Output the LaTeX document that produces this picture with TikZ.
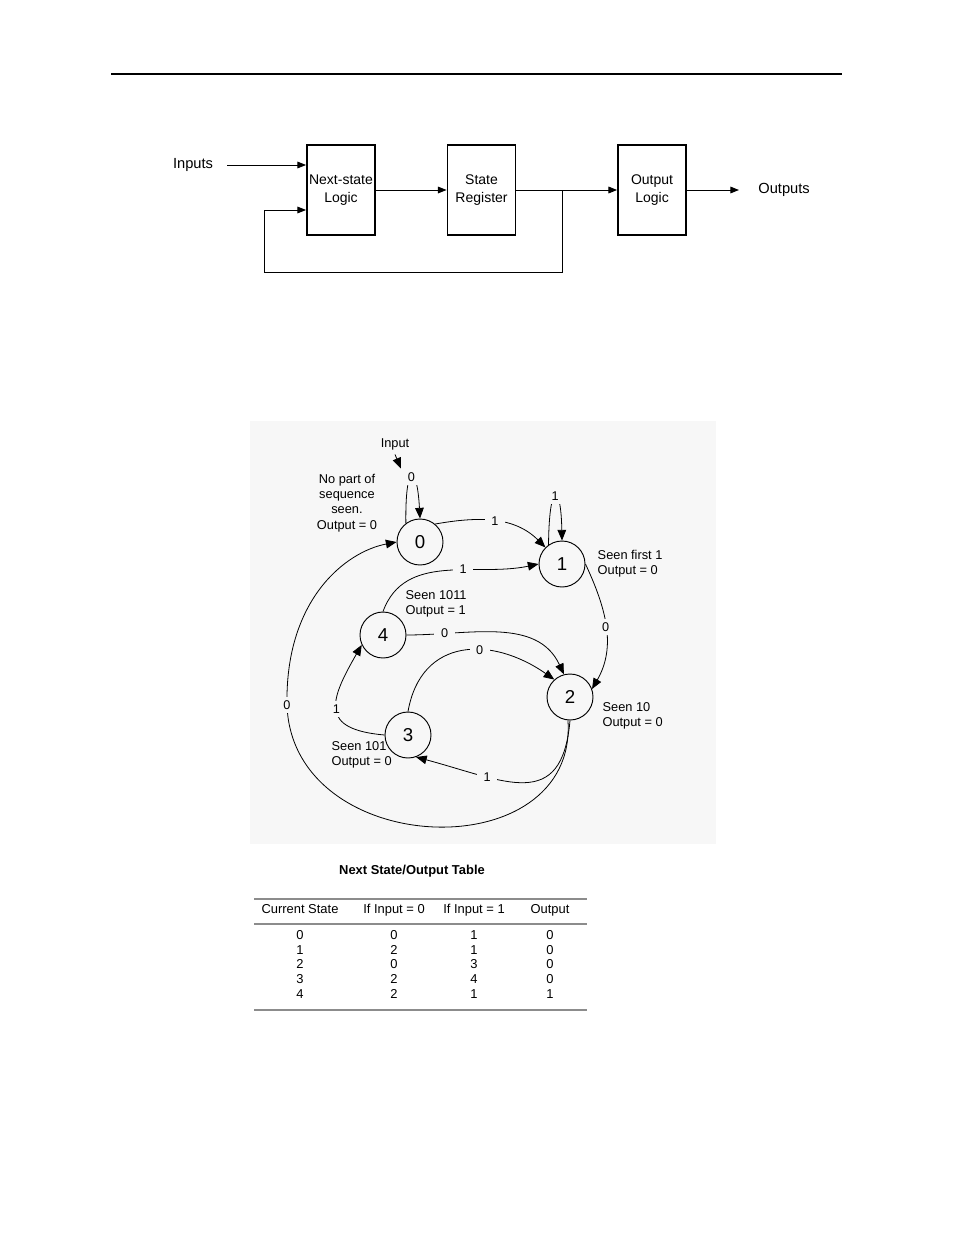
\documentclass[tikz,border=0pt]{standalone}
\usepackage{fontspec}
\setmainfont{Liberation Sans}
\usetikzlibrary{arrows.meta, positioning, calc}
\definecolor{panelgray}{HTML}{F7F7F7}
\definecolor{rulegray}{HTML}{8C8C8C}
\tikzstyle{arrow} = [line width=0.75pt, -{Triangle[length=6.5pt,width=5pt]}]

\begin{document}
\begin{tikzpicture}[
	x=0.75pt, y=0.75pt,
	block/.style={rectangle, draw=black, line width=1.4pt, minimum width=51pt, minimum height=68pt, inner xsep=0.5pt, align=center, font=\fontsize{10.5}{13}\selectfont},
	state/.style={circle, draw=black, line width=0.7pt, minimum size=34.5pt, inner sep=0pt, fill=panelgray, font=\fontsize{14}{16}\selectfont},
	tag/.style={fill=panelgray, inner xsep=5pt, inner ysep=2.5pt, font=\fontsize{9.5}{11}\selectfont},
	note/.style={align=left, inner sep=1pt, font=\fontsize{9.6}{11.5}\selectfont},
	edge/.style={line width=0.6pt, -{Triangle[length=8pt,width=6.5pt]}},
	cell/.style={inner sep=1pt, text height=6.8pt, text depth=2pt, font=\fontsize{9.7}{11}\selectfont}
]
\useasboundingbox (0,0) rectangle (954,-1235);

% Page rule
\draw[line width=0.9pt] (111,-74) -- (842,-74);

% Block diagram
\node[block] (nsl) at (341,-190) {Next-state\\Logic};
\node[block, right=53pt of nsl] (sreg) {State\\Register};
\node[block, right=75.5pt of sreg] (olog) {Output\\Logic};
\node[font=\fontsize{11}{13}\selectfont] (inp) at (193,-165) {Inputs};
\node[font=\fontsize{11}{13}\selectfont] (outp) [right=50pt of olog] {Outputs};
\coordinate (tap) at (562,-190);
\coordinate (fbcorner) at (264,-272);

\draw[arrow, shorten <=7pt] (inp.east) -- (inp.east -| nsl.west);
\draw[arrow] (nsl) -- (sreg);
\draw[arrow] (sreg) -- (olog);
\draw[arrow, shorten >=11pt] (olog) -- (outp);
\draw[arrow] (tap) -- (tap |- fbcorner) -- (fbcorner) |- ([yshift=-15pt]nsl.west);

% State diagram
\fill[panelgray] (250,-421) rectangle (716,-844);

\node[state] (s0) at (420,-542) {0};
\node[state] (s1) at (562,-564) {1};
\node[state] (s4) at (383,-635) {4};
\node[state] (s2) at (570,-697) {2};
\node[state] (s3) at (408,-735) {3};

\node[font=\fontsize{9.6}{11}\selectfont] (inlbl) at (395,-444) {Input};
\node[note, align=center] (n0) at (347,-503) {No part of\\sequence\\seen.\\Output = 0};
\node[note, right=8pt of s1] (n1) {Seen first 1\\Output = 0};
\node[note, anchor=west] (n4) at (404,-604) {Seen 1011\\Output = 1};
\node[note, anchor=west] (n2) at (601,-716) {Seen 10\\Output = 0};
\node[note, anchor=west] (n3) at (330,-755) {Seen 101\\Output = 0};

% Transitions
\draw[edge] (s0.127) .. controls (405,-462) and (417,-462) .. node[tag] (l00) {0} (s0.north);
\draw[edge] (inlbl.south) -- (l00.north west);
\draw[edge] (s0.50) to[out=10, in=135] node[tag] {1} (s1.135);
\draw[edge] (s1.125) .. controls (549,-481) and (561,-481) .. node[tag] {1} (s1.north);
\draw[edge] (s1.east) to[out=-65, in=60] node[tag] {0} (s2.20);
\draw[edge] (s4.north) to[out=70, in=192] node[tag, pos=0.6] {1} (s1.west);
\draw[edge] (s4.east) to[out=0, in=115] node[tag, pos=0.2] {0} (s2.105);
\draw[edge] (s3.north) to[out=80, in=145, looseness=1.3] node[tag, pos=0.6] {0} (s2.132);
\draw[edge] (s2.south) to[out=-95, in=-15, looseness=1.5] node[tag, pos=0.7] {1} (s3.-70);
\draw[edge] (s3.west) to[out=175, in=-120, looseness=1.8] node[tag] {1} (s4.205);
\draw[edge] (s2.-95) .. controls (578,-870) and (292,-860) .. (287,-705) node[tag] {0}
	.. controls (285,-600) and (345,-552) .. (s0.west);

% Table
\node[font=\bfseries\fontsize{9.7}{11}\selectfont] (ttl) at (412,-871) {Next State/Output Table};
\draw[rulegray, line width=1.6pt] (254,-899) -- (587,-899);
\draw[rulegray, line width=1pt] (254,-924) -- (587,-924);
\draw[rulegray, line width=1.6pt] (254,-1010) -- (587,-1010);

\node[cell] (h1) at (300,-910) {Current State};
\node[cell] (h2) at (394,-910) {If Input = 0};
\node[cell] (h3) at (474,-910) {If Input = 1};
\node[cell] (h4) at (550,-910) {Output};

\foreach \cs/\nz/\no/\ou [count=\i] in {0/0/1/0, 1/2/1/0, 2/0/3/0, 3/2/4/0, 4/2/1/1} {
	\node[cell] (r\i a) at (300,{-921.5-14.7*\i}) {\cs};
	\node[cell] (r\i b) at (394,{-921.5-14.7*\i}) {\nz};
	\node[cell] (r\i c) at (474,{-921.5-14.7*\i}) {\no};
	\node[cell] (r\i d) at (550,{-921.5-14.7*\i}) {\ou};
}

\end{tikzpicture}
\end{document}
